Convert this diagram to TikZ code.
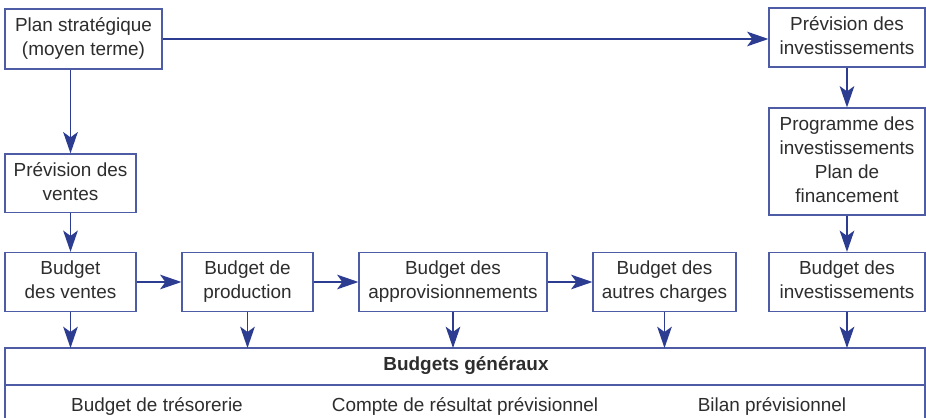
\documentclass[tikz,border=0pt]{standalone}
\usepackage{fontspec}
\setmainfont{Liberation Sans}
\usetikzlibrary{arrows.meta}
\definecolor{trait}{RGB}{44,60,145}
\definecolor{cadre}{RGB}{78,92,165}
\definecolor{texte}{RGB}{45,45,45}
\tikzset{
	bloc/.style={draw=cadre, line width=0.9pt, fill=white, inner sep=0pt, align=center, text=texte,
		font=\fontsize{14.2}{18}\selectfont, execute at begin node={\rule{0pt}{19pt}}, execute at end node={\rule[-3pt]{0pt}{3pt}}},
	fleche/.style={draw=trait, line width=1pt, -{Stealth[length=16pt, width=11pt, inset=4pt]}},
	legende/.style={inner sep=0pt, text=texte, font=\fontsize{14.2}{18}\selectfont}
}
\begin{document}
\begin{tikzpicture}[x=0.75pt, y=-0.75pt]
				\useasboundingbox (0,0) rectangle (926,418);

					\node[bloc, minimum width=117.75pt, minimum height=45pt] (plan) at (83.5,39) {Plan stratégique\\(moyen terme)};
					\node[bloc, minimum width=117pt, minimum height=44.25pt] (previnv) at (847,37.5) {Prévision des\\investissements};
					\node[bloc, minimum width=98.25pt, minimum height=44pt] (prevventes) at (70.5,183.3) {Prévision des\\ventes};
					\node[bloc, minimum width=117pt, minimum height=80.25pt] (programme) at (847,161.5) {Programme des\\investissements\\Plan de\\financement};

					\node[bloc, minimum width=98.25pt, minimum height=44.25pt] (bventes) at (70.5,282) {Budget\\des ventes};
					\node[bloc, minimum width=98.25pt, minimum height=44.25pt] (bprod) at (247.5,282) {Budget de\\production};
					\node[bloc, minimum width=141pt, minimum height=44.25pt] (bappro) at (453,282) {Budget des\\approvisionnements};
					\node[bloc, minimum width=107.25pt, minimum height=44.25pt] (bautres) at (664.5,282) {Budget des\\autres charges};
					\node[bloc, minimum width=117pt, minimum height=44.25pt] (binv) at (847,282) {Budget des\\investissements};

					\begin{scope}
						\draw[cadre, line width=0.9pt] (5,420) |- (925,348) -- (925,420);
						\draw[cadre, line width=0.9pt] (5,385) -- (925,385);
						\coordinate (gentop) at (466,348);
						\node[legende, font=\fontsize{14.2}{18}\selectfont\bfseries] (gentitre) at (466,366) {Budgets généraux};
						\node[legende] (tresorerie) at (157,406) {Budget de trésorerie};
						\node[legende] (resultat) at (465,406) {Compte de résultat prévisionnel};
						\node[legende] (bilan) at (772,406) {Bilan prévisionnel};
					\end{scope}

					\draw[fleche] (plan.south -| prevventes.north) -- (prevventes.north);
					\draw[fleche] (plan.east) -- (plan.east -| previnv.west);
					\draw[fleche] (previnv.south) -- (programme.north);
					\draw[fleche] (programme.south) -- (binv.north);
					\draw[fleche] (prevventes.south) -- (bventes.north);

					\draw[fleche] (bventes.east) -- (bprod.west);
					\draw[fleche] (bprod.east) -- (bappro.west);
					\draw[fleche] (bappro.east) -- (bautres.west);

					\foreach \b in {bventes, bprod, bappro, bautres, binv}
						\draw[fleche] (\b.south) -- (\b.south |- gentop);

				\end{tikzpicture}
\end{document}
